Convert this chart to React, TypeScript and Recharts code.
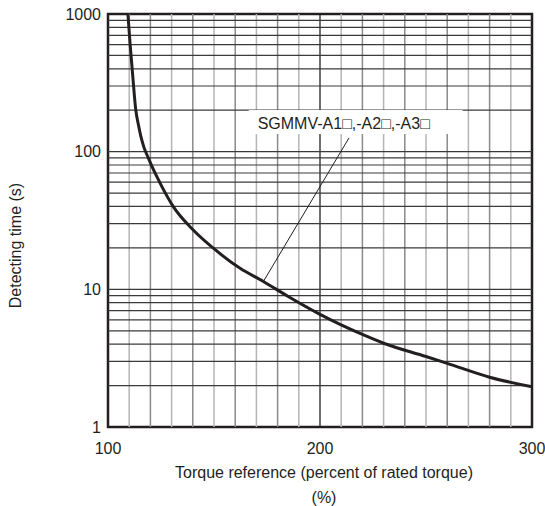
import { LineChart, Line, XAxis, YAxis, ReferenceLine, ReferenceArea, ReferenceDot } from "recharts"

// curve: torque (%) -> detecting time (s)
const torque = [109.4, 110.4, 111.7, 113.1, 114.3, 115.5, 117, 119, 121, 123, 125.3, 130.8, 140.2, 149.7, 162.3, 173.3, 185, 200, 220, 230, 250, 260, 280, 300]
const seconds = [1000, 612, 351, 201, 158, 129, 107, 90.2, 76.7, 66.1, 56.2, 39.9, 27.0, 19.9, 14.2, 11.4, 8.87, 6.58, 4.7, 4.06, 3.25, 2.9, 2.3, 1.96]

const xTicks = [100, 200, 300]
const yTicks = [1, 10, 100, 1000]
const vGrid = [110, 120, 130, 140, 150, 160, 170, 180, 190, 200, 210, 220, 230, 240, 250, 260, 270, 280, 290]
const hGrid = [2, 3, 4, 5, 6, 7, 8, 9, 10, 20, 30, 40, 50, 60, 70, 80, 90, 100, 200, 300, 400, 500, 600, 700, 800, 900]

// leader line from the curve up to the model label
const leaderX = [173.3, 213.7]
const leaderY = [11.4, 126]
const modelLabel = "SGMMV-A1□,-A2□,-A3□"
const labelAt = { x: 170.6, y: 146 }

const data = torque.map((t, i) => ({ t, s: seconds[i] }))

const FONT = "'Liberation Sans', Arial, sans-serif"
const INK = "#231f20"

function ModelLabel(props: any) {
  const { cx, cy } = props
  return (
    <g>
      <rect x={cx - 9} y={cy - 19} width={214} height={24} fill="#fff" />
      <text x={cx} y={cy} fontSize={16} fontFamily={FONT} fill={INK}>
        {modelLabel}
      </text>
    </g>
  )
}

function XTitle(props: any) {
  const { viewBox } = props
  const cx = viewBox.x + viewBox.width / 2 + 4
  return (
    <g fontFamily={FONT} fontSize={16} fill={INK} textAnchor="middle">
      <text x={cx} y={478}>Torque reference (percent of rated torque)</text>
      <text x={cx} y={503}>(%)</text>
    </g>
  )
}

function YTitle(props: any) {
  const { viewBox } = props
  const cy = viewBox.y + viewBox.height / 2 + 25
  return (
    <text x={21} y={cy} transform={`rotate(-90 21 ${cy})`} fontFamily={FONT} fontSize={16} fill={INK} textAnchor="middle">
      Detecting time (s)
    </text>
  )
}

export default function App() {
  return (
    <div style={{ position: "absolute", left: 0, top: 0, background: "#fff" }}>
      <LineChart width={545} height={506} data={data} margin={{ top: 14, right: 13, bottom: 0, left: 0 }}>
        {vGrid.map((v) => (
          <ReferenceLine key={"v" + v} x={v} stroke={v === 200 ? "#222" : v % 20 === 0 ? "#8a8a8a" : "#b5b5b5"} strokeWidth={v === 200 ? 1.3 : 1.5} />
        ))}
        {hGrid.map((h) => (
          <ReferenceLine key={"h" + h} y={h} stroke="#3a3a3a" strokeWidth={1.2} />
        ))}
        <ReferenceDot x={labelAt.x} y={labelAt.y} shape={ModelLabel} />
        <ReferenceLine
          segment={[
            { x: leaderX[0], y: leaderY[0] },
            { x: leaderX[1], y: leaderY[1] },
          ]}
          stroke={INK}
          strokeWidth={1}
        />
        <XAxis
          dataKey="t"
          type="number"
          domain={[100, 300]}
          ticks={xTicks}
          height={79}
          axisLine={false}
          tickLine={false}
          tickSize={0}
          tickMargin={16}
          tick={{ fontSize: 16, fontFamily: FONT, fill: INK }}
          label={<XTitle />}
        />
        <YAxis
          type="number"
          scale="log"
          domain={[1, 1000]}
          ticks={yTicks}
          allowDataOverflow
          width={108}
          axisLine={false}
          tickLine={false}
          tickSize={0}
          tickMargin={7}
          tick={{ fontSize: 16, fontFamily: FONT, fill: INK }}
          label={<YTitle />}
        />
        <Line dataKey="s" type="monotone" stroke={INK} strokeWidth={3} dot={false} isAnimationActive={false} />
        <ReferenceArea x1={100} x2={300} y1={1} y2={1000} fill="none" stroke={INK} strokeWidth={2.5} />
      </LineChart>
    </div>
  )
}
